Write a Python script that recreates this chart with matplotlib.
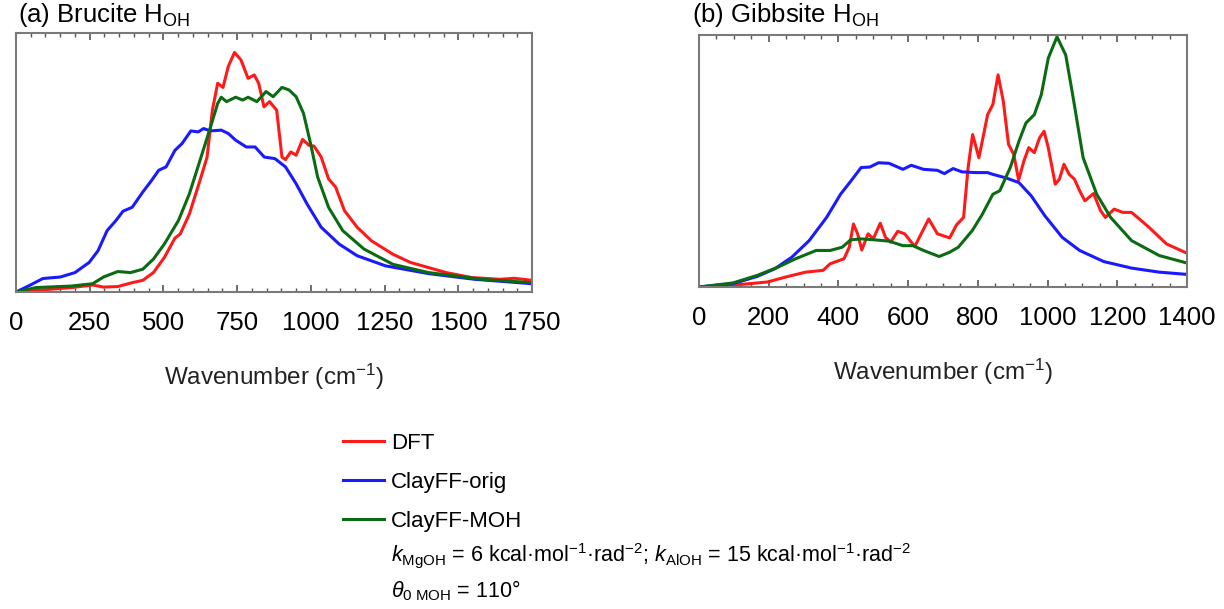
import matplotlib
matplotlib.use("Agg")
import matplotlib.pyplot as plt
from matplotlib.ticker import MultipleLocator

plt.rcParams['font.family'] = ['Liberation Sans', 'DejaVu Sans']
plt.rcParams['mathtext.fontset'] = 'custom'
plt.rcParams['mathtext.rm'] = 'Liberation Sans'
plt.rcParams['mathtext.it'] = 'Liberation Sans:italic'
plt.rcParams['mathtext.bf'] = 'Liberation Sans:bold'

# (a) Brucite - wavenumber (cm-1) and normalised intensity
bru_dft_x = [0, 67, 188, 260, 297, 345, 394, 430, 466, 503, 539, 557, 588, 624, 648, 666, 684, 702,
             720, 741, 763, 787, 808, 823, 841, 860, 884, 902, 914, 932, 950, 972, 993, 1011, 1035,
             1060, 1084, 1114, 1157, 1205, 1278, 1338, 1459, 1544, 1641, 1690, 1750]
bru_dft_y = [0, 0.006, 0.017, 0.027, 0.019, 0.021, 0.036, 0.045, 0.075, 0.133, 0.208, 0.224, 0.301,
             0.431, 0.521, 0.702, 0.806, 0.790, 0.871, 0.925, 0.896, 0.825, 0.838, 0.806, 0.715, 0.735,
             0.702, 0.521, 0.511, 0.541, 0.528, 0.589, 0.567, 0.563, 0.521, 0.437, 0.405, 0.314, 0.250,
             0.198, 0.146, 0.114, 0.075, 0.056, 0.049, 0.053, 0.045]

bru_orig_x = [0, 42, 91, 151, 200, 248, 278, 309, 339, 363, 394, 430, 460, 484, 509, 539, 563, 593,
              618, 636, 660, 696, 720, 745, 781, 811, 842, 878, 914, 950, 987, 1035, 1096, 1157, 1253,
              1399, 1556, 1750]
bru_orig_y = [0, 0.023, 0.052, 0.058, 0.075, 0.114, 0.159, 0.237, 0.276, 0.312, 0.327, 0.386, 0.431,
              0.470, 0.483, 0.547, 0.573, 0.622, 0.618, 0.631, 0.622, 0.625, 0.612, 0.586, 0.560, 0.560,
              0.521, 0.515, 0.483, 0.418, 0.340, 0.250, 0.185, 0.140, 0.101, 0.071, 0.049, 0.032]

bru_moh_x = [0, 67, 188, 260, 297, 345, 388, 430, 466, 503, 551, 588, 624, 660, 684, 696, 714, 745,
             769, 787, 817, 848, 872, 902, 926, 950, 975, 999, 1023, 1060, 1108, 1180, 1278, 1399,
             1580, 1750]
bru_moh_y = [0, 0.017, 0.023, 0.032, 0.058, 0.079, 0.075, 0.088, 0.127, 0.185, 0.276, 0.379, 0.508,
             0.638, 0.728, 0.752, 0.735, 0.752, 0.741, 0.752, 0.735, 0.774, 0.754, 0.790, 0.780, 0.754,
             0.690, 0.573, 0.444, 0.327, 0.237, 0.166, 0.107, 0.075, 0.049, 0.036]

# (b) Gibbsite
gib_dft_x = [0, 97, 197, 247, 306, 356, 376, 416, 431, 443, 455, 467, 485, 500, 520, 535, 550, 570,
             590, 619, 659, 684, 719, 739, 759, 772, 785, 803, 828, 843, 858, 873, 888, 903, 917, 932,
             946, 962, 977, 990, 1002, 1022, 1034, 1047, 1062, 1077, 1092, 1107, 1132, 1152, 1166,
             1191, 1216, 1241, 1291, 1341, 1400]
gib_dft_y = [0, 0.007, 0.020, 0.039, 0.059, 0.066, 0.092, 0.112, 0.158, 0.250, 0.211, 0.147, 0.211,
             0.191, 0.253, 0.197, 0.178, 0.221, 0.211, 0.161, 0.270, 0.211, 0.195, 0.247, 0.276, 0.474,
             0.605, 0.513, 0.684, 0.724, 0.842, 0.737, 0.566, 0.526, 0.424, 0.500, 0.553, 0.533, 0.592,
             0.618, 0.553, 0.408, 0.428, 0.487, 0.447, 0.428, 0.382, 0.342, 0.371, 0.303, 0.276, 0.309,
             0.296, 0.296, 0.237, 0.171, 0.134]

gib_orig_x = [0, 97, 167, 217, 266, 316, 366, 406, 436, 465, 490, 515, 545, 585, 609, 644, 684, 704,
              729, 754, 793, 828, 843, 883, 918, 953, 992, 1042, 1092, 1161, 1241, 1320, 1400]
gib_orig_y = [0, 0.013, 0.042, 0.072, 0.118, 0.184, 0.276, 0.368, 0.421, 0.474, 0.476, 0.493, 0.491,
              0.467, 0.483, 0.467, 0.463, 0.450, 0.470, 0.457, 0.454, 0.454, 0.447, 0.432, 0.414, 0.362,
              0.283, 0.197, 0.145, 0.101, 0.075, 0.059, 0.050]

gib_moh_x = [0, 97, 167, 227, 277, 336, 376, 411, 435, 465, 505, 545, 585, 614, 644, 689, 719, 744,
             784, 813, 843, 863, 893, 918, 938, 962, 982, 1002, 1027, 1052, 1072, 1102, 1141, 1181,
             1241, 1320, 1400]
gib_moh_y = [0, 0.016, 0.046, 0.079, 0.112, 0.145, 0.145, 0.158, 0.187, 0.191, 0.187, 0.182, 0.164,
             0.164, 0.145, 0.121, 0.138, 0.158, 0.224, 0.289, 0.368, 0.382, 0.474, 0.579, 0.651, 0.684,
             0.763, 0.908, 0.993, 0.921, 0.763, 0.513, 0.368, 0.276, 0.184, 0.125, 0.095]

RED = '#ff1a1a'
BLUE = '#1a1aff'
GREEN = '#0b6b12'
SPINE = '#7a7a7a'

fig = plt.figure(figsize=(12.24, 6.09), dpi=100)
W, H = 1224, 609

def setup(ax, xmax, major):
    ax.set_xlim(0, xmax)
    ax.set_ylim(0, 1)
    ax.set_yticks([])
    ax.xaxis.set_major_locator(MultipleLocator(major))
    ax.xaxis.set_minor_locator(MultipleLocator(50))
    ax.tick_params(axis='x', which='both', direction='in', top=True, bottom=True,
                   color='#555555', labelsize=18.5, pad=14)
    ax.tick_params(axis='x', which='major', length=5, width=1.2)
    ax.tick_params(axis='x', which='minor', length=2.8, width=1.0)
    for s in ax.spines.values():
        s.set_color(SPINE)
        s.set_linewidth(1.5)
    ax.set_xlabel(r"Wavenumber (cm$^{\mathregular{-1}}$)", fontsize=17.5, labelpad=19, color='#222222')

# panel (a)
ax1 = fig.add_axes([16 / W, 1 - 292 / H, 516 / W, 259 / H])
l1, = ax1.plot(bru_dft_x, bru_dft_y, color=RED, lw=2.2, solid_joinstyle='round')
l2, = ax1.plot(bru_orig_x, bru_orig_y, color=BLUE, lw=2.2, solid_joinstyle='round')
l3, = ax1.plot(bru_moh_x, bru_moh_y, color=GREEN, lw=2.2, solid_joinstyle='round')
setup(ax1, 1750, 250)

# panel (b)
ax2 = fig.add_axes([699 / W, 1 - 287 / H, 488 / W, 252 / H])
ax2.plot(gib_dft_x, gib_dft_y, color=RED, lw=2.2, solid_joinstyle='round')
ax2.plot(gib_orig_x, gib_orig_y, color=BLUE, lw=2.2, solid_joinstyle='round')
ax2.plot(gib_moh_x, gib_moh_y, color=GREEN, lw=2.2, solid_joinstyle='round')
setup(ax2, 1400, 200)

fig.text(18 / W, 1 - 15 / H, r"(a) Brucite H$_\mathregular{OH}$", fontsize=18.5, va='center', ha='left')
fig.text(692 / W, 1 - 15 / H, r"(b) Gibbsite H$_\mathregular{OH}$", fontsize=18.5, va='center', ha='left')

fig.legend([l1, l2, l3], ["DFT", "ClayFF-orig", "ClayFF-MOH"], loc='upper left',
           bbox_to_anchor=(343 / W, 1 - 433 / H), frameon=False, fontsize=16,
           handlelength=1.85, handletextpad=0.3, labelspacing=0.8, borderpad=0, borderaxespad=0)

fig.text(391 / W, 1 - 556 / H,
         r"$k_\mathregular{MgOH}$ = 6 kcal·mol$^\mathregular{-1}$·rad$^\mathregular{-2}$; "
         r"$k_\mathregular{AlOH}$ = 15 kcal·mol$^\mathregular{-1}$·rad$^\mathregular{-2}$",
         fontsize=15.5, va='center', ha='left')
fig.text(391 / W, 1 - 591 / H, r"$\theta_{\mathit{0}\ \mathregular{MOH}}$ = 110°",
         fontsize=15.5, va='center', ha='left')

fig.savefig("out.png", dpi=100)
